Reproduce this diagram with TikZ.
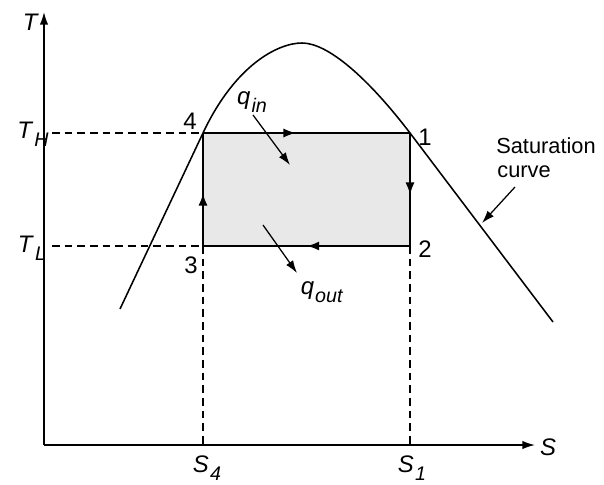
\documentclass[tikz,border=0pt]{standalone}
\usepackage{fontspec}
\setmainfont{Liberation Sans}
\usetikzlibrary{decorations.markings,arrows.meta}
\newcommand{\lab}[2]{\textit{#1}\kern0.8pt\raisebox{-0.6ex}{\fontsize{14}{16}\selectfont\textit{#2}}}
\tikzset{
  txt/.style={font=\fontsize{17}{20}\selectfont, inner sep=0pt},
  note/.style={font=\fontsize{15.5}{18}\selectfont, inner sep=0pt},
  axisline/.style={line width=1.1pt},
  guide/.style={line width=0.9pt, dash pattern=on 5.5pt off 3.5pt},
  stroke/.style={line width=1.9pt},
  tip/.style={-{Latex[length=9pt,width=6pt]}},
  midarrow/.style={postaction={decorate, decoration={markings,
      mark=at position #1 with {\arrow{Latex[length=9pt,width=6.5pt]}}}}},
}

\begin{document}
\begin{tikzpicture}[x=0.025cm,y=-0.025cm]
  \useasboundingbox (0,0) rectangle (604,485);
  % cycle corners
  \coordinate (p4) at (203,133);
  \coordinate (p1) at (410,133);
  \coordinate (p2) at (410,246);
  \coordinate (p3) at (203,246);
  \coordinate (O) at (44,445);
  \fill[gray!18] (p4) rectangle (p2);
  % axes
  \draw[axisline,tip] (O) -- (44,12);
  \draw[axisline,tip] (O) -- (535,445);
  \node[txt] (T) at (31,22) {\textit{T}};
  \node[txt] (S) at (548,447) {\textit{S}};
  % guide lines
  \coordinate (th) at (52,133);
  \coordinate (tl) at (52,246);
  \coordinate (s4) at (203,445);
  \coordinate (s1) at (410,445);
  \draw[guide] (th) -- (p4);
  \draw[guide] (tl) -- (p3);
  \draw[guide] (p3) -- (s4);
  \draw[guide] (p2) -- (s1);
  \node[txt] (TH) at (33,134) {\lab{T}{H}};
  \node[txt] (TL) at (32,248) {\lab{T}{L}};
  \node[txt] (S4) at (207,468) {\lab{S}{4}};
  \node[txt] (S1) at (412,468) {\lab{S}{1}};
  % saturation curve
  \draw[line width=1.1pt] (120,309) -- (p4) .. controls (235,65) and (278,43) .. (302,43)
     .. controls (328,43) and (368,78) .. (p1) -- (553,322);
  % cycle
  \draw[stroke,midarrow=0.45] (p4) -- (p1);
  \draw[stroke,midarrow=0.55] (p1) -- (p2);
  \draw[stroke,midarrow=0.5] (p2) -- (p3);
  \draw[stroke,midarrow=0.47] (p3) -- (p4);
  \node[txt] (n4) at (190,121) {4};
  \node[txt] (n1) at (425,137) {1};
  \node[txt] (n2) at (425,249) {2};
  \node[txt] (n3) at (191,265) {3};
  % heat
  \node[txt] (qin) at (252,102) {\lab{q}{in}};
  \node[txt] (qout) at (322,292) {\lab{q}{out}};
  \coordinate (qa) at (253,115);
  \coordinate (qb) at (290,165);
  \coordinate (qc) at (263,225);
  \coordinate (qd) at (297,273);
  \draw[line width=0.9pt,tip] (qa) -- (qb);
  \draw[line width=0.9pt,tip] (qc) -- (qd);
  \node[note] (sat) at (546,146) {Saturation};
  \node[note] (crv) at (524,172) {curve};
  \coordinate (sa) at (515,187);
  \coordinate (sb) at (482,223);
  \draw[line width=0.9pt,tip] (sa) -- (sb);
\end{tikzpicture}
\end{document}
